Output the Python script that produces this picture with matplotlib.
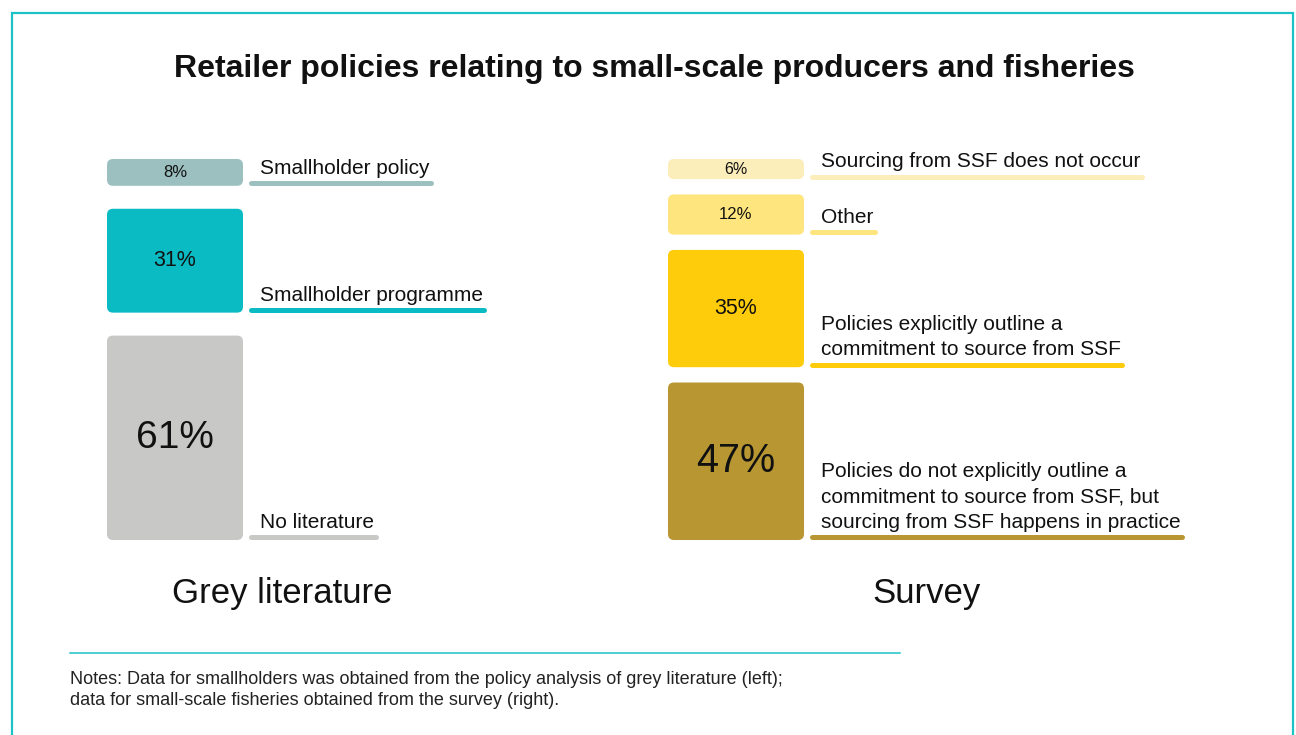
import matplotlib
matplotlib.use("Agg")
import matplotlib.pyplot as plt
from matplotlib.patches import FancyBboxPatch, Rectangle
from matplotlib.lines import Line2D
from matplotlib import transforms

# ---- data -------------------------------------------------------------
title = "Retailer policies relating to small-scale producers and fisheries"

grey_labels = ["Smallholder policy", "Smallholder programme", "No literature"]
grey_values = [8, 31, 61]
grey_colors = ["#9CC0C0", "#0BBBC3", "#C8C8C6"]
grey_value_sizes = [12, 15.5, 28]

survey_labels = [
    "Sourcing from SSF does not occur",
    "Other",
    "Policies explicitly outline a\ncommitment to source from SSF",
    "Policies do not explicitly outline a\ncommitment to source from SSF, but\nsourcing from SSF happens in practice",
]
survey_values = [6, 12, 35, 47]
survey_colors = ["#FBEEBB", "#FFE57D", "#FFCC0B", "#B89732"]
survey_value_sizes = [11.5, 12, 15.5, 28.5]

column_titles = ["Grey literature", "Survey"]
notes = ("Notes: Data for smallholders was obtained from the policy analysis of grey literature (left);\n"
         "data for small-scale fisheries obtained from the survey (right).")

TEAL = "#1CC2C6"
FONT = "Liberation Sans"

W, H = 1296, 735
fig = plt.figure(figsize=(W / 100, H / 100), dpi=100)
fig.patch.set_facecolor("white")
plt.rcParams["font.family"] = FONT

SPAN = 113.7          # vertical extent of each column in percentage units
COL_TOP, COL_BOTTOM = 159, 540
BOX_W = 136
CORNER = 6            # corner radius in pixels


def px(v):
    return v * 72 / 100  # pixels -> points


def draw_column(left_px, values, colors, labels, value_sizes):
    ax = fig.add_axes([left_px / W, 1 - COL_BOTTOM / H, BOX_W / W,
                       (COL_BOTTOM - COL_TOP) / H])
    ax.set_xlim(0, 1)
    ax.set_ylim(SPAN, 0)
    ax.axis("off")
    fig.canvas.draw()
    bb = ax.get_window_extent()
    aspect = bb.width / (bb.height / SPAN)
    radius = CORNER / bb.width

    gap = (SPAN - sum(values)) / (len(values) - 1)
    trans = transforms.blended_transform_factory(ax.transAxes, ax.transData)
    renderer = fig.canvas.get_renderer()

    y = 0
    for val, col, lab, vs in zip(values, colors, labels, value_sizes):
        box = FancyBboxPatch((0, y), 1, val,
                             boxstyle=f"round,pad=0,rounding_size={radius}",
                             mutation_aspect=aspect, facecolor=col,
                             edgecolor="none")
        ax.add_patch(box)
        ax.text(0.5, y + val / 2, f"{val}%", ha="center", va="center",
                fontsize=vs, color="#111111")

        bottom = y + val
        # category label, sitting just above its underline
        t_tr = transforms.offset_copy(trans, fig=fig, x=px(17), y=px(8),
                                      units="points")
        txt = ax.text(1, bottom, lab, transform=t_tr, ha="left", va="bottom",
                      fontsize=15, color="#111111", linespacing=1.44,
                      clip_on=False)
        ext = txt.get_window_extent(renderer)
        x_start = bb.x1 + 7.5
        x_end = ext.x1 + 1.5
        inv = ax.transAxes.inverted()
        xs = [inv.transform((x_start, 0))[0], inv.transform((x_end, 0))[0]]
        l_tr = transforms.offset_copy(trans, fig=fig, x=0, y=px(2.6),
                                      units="points")
        ax.plot(xs, [bottom, bottom], transform=l_tr, color=col,
                lw=px(5), solid_capstyle="round", clip_on=False)
        y = bottom + gap
    return ax


draw_column(107, grey_values, grey_colors, grey_labels, grey_value_sizes)
draw_column(668, survey_values, survey_colors, survey_labels, survey_value_sizes)

# title
fig.text(654 / W, 1 - 69 / H, title, ha="center", va="center",
         fontsize=23, fontweight="bold", color="#111111")

# column headings
fig.text(282 / W, 1 - 594 / H, column_titles[0], ha="center", va="center",
         fontsize=25, color="#111111")
fig.text(927 / W, 1 - 594 / H, column_titles[1], ha="center", va="center",
         fontsize=25, color="#111111")

# separator and notes
fig.add_artist(Line2D([70 / W, 900 / W], [1 - 653 / H] * 2, color=TEAL,
                      lw=1.1, transform=fig.transFigure))
fig.text(70 / W, 1 - 705 / H, notes, ha="left", va="baseline", fontsize=13,
         color="#222222", linespacing=1.3)

# frame
fig.add_artist(Rectangle((12 / W, -0.05), (1293 - 12) / W, 1.05 - 13 / H,
                         transform=fig.transFigure, fill=False,
                         edgecolor=TEAL, lw=1.6))

fig.savefig("out.png", dpi=100)
